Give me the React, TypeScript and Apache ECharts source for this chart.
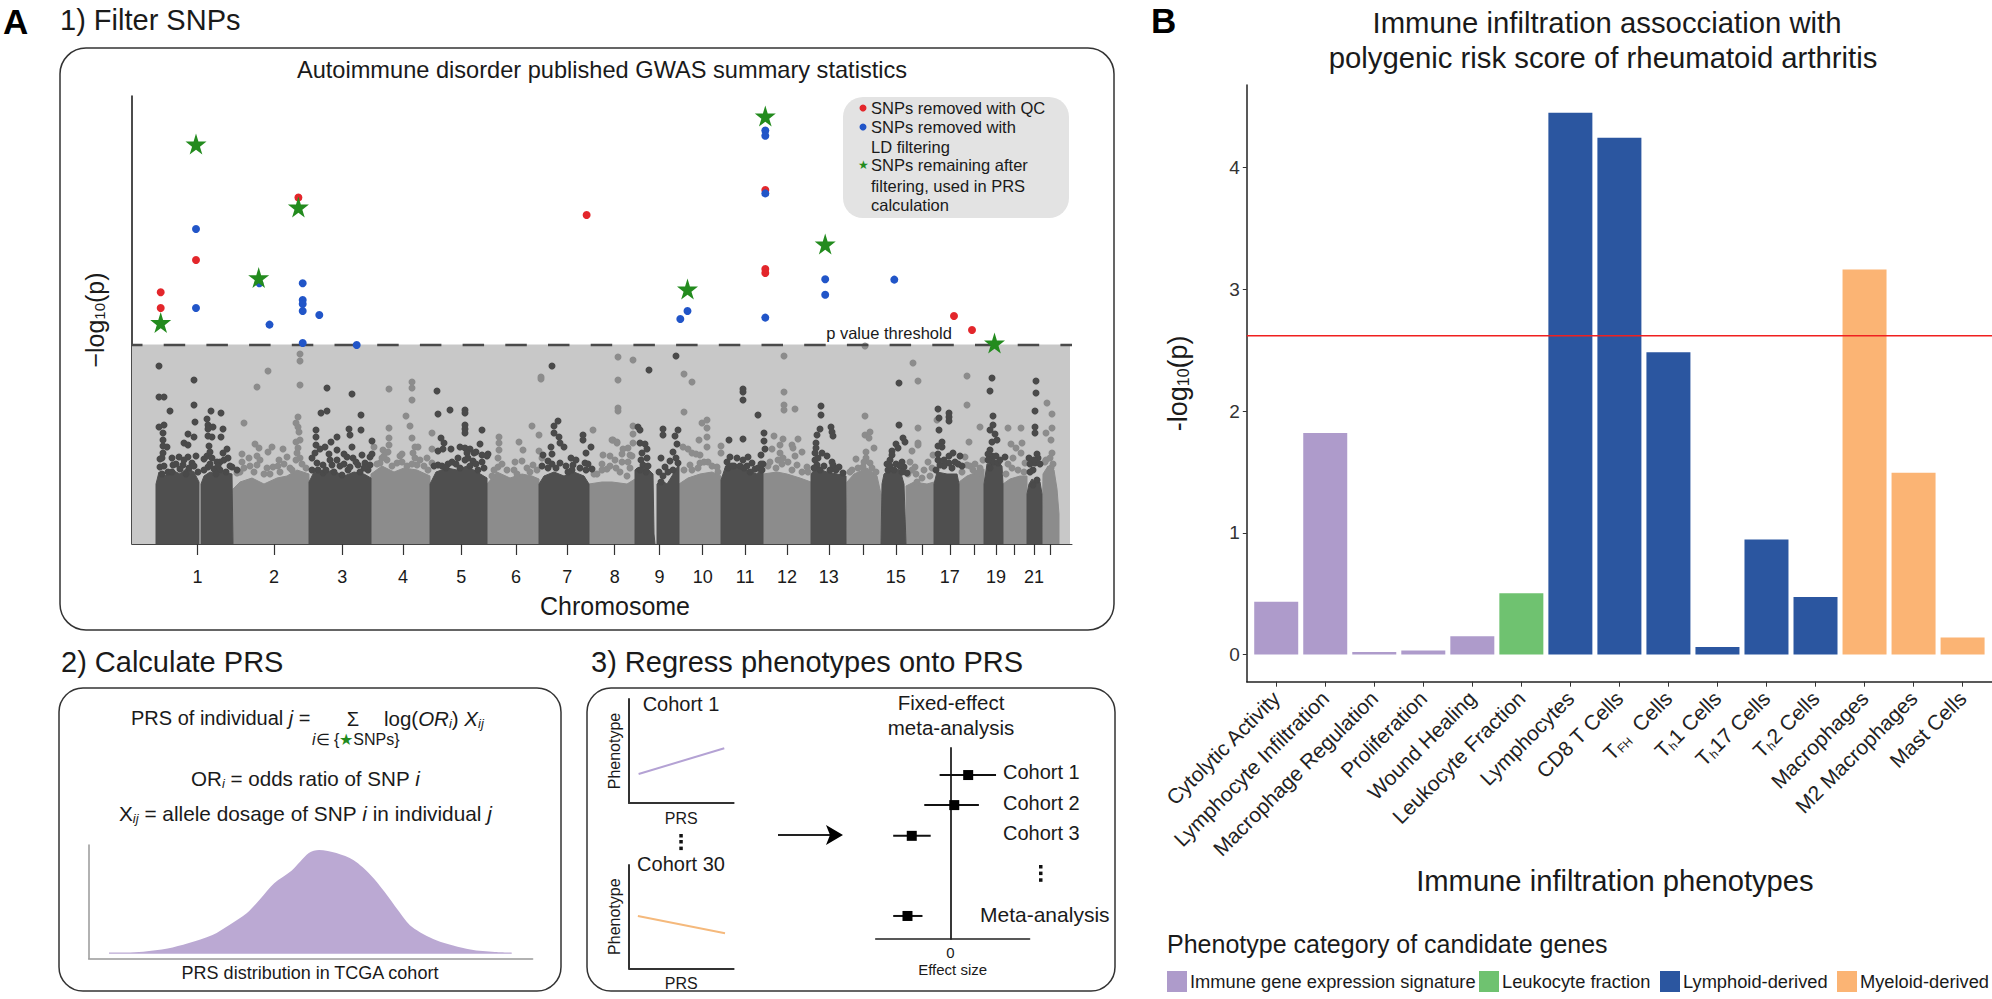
import React, { useEffect, useRef } from "react";
import * as echarts from "echarts";

const FONT = '"Liberation Sans", Arial, sans-serif';

// ---------- Panel A1: Manhattan plot ----------
const chromosomeTicks = [65.5, 141.9, 210.3, 270.9, 329.2, 384, 435.2, 482.7, 527.4, 570.7, 613.2, 655, 696.8, 731.3, 763.8, 790.4, 817.8, 842.3, 863.9, 882.7, 902.1, 918.7];
const chromosomeLabels = ["1", "2", "3", "4", "5", "6", "7", "8", "9", "10", "11", "12", "13", "", "15", "", "17", "", "19", "", "21", ""];
const threshold = 199;
const darkMass = [
  [[24,0],[24,60],[27,72],[33,68],[40,74],[48,70],[55,76],[62,72],[67,62],[67,0]],
  [[69,0],[69,60],[72,68],[78,72],[85,70],[92,72],[100,70],[101,0]],
  [[177,0],[177,62],[182,72],[192,70],[200,74],[212,68],[222,72],[232,70],[239,66],[239,0]],
  [[298,0],[298,60],[304,72],[315,76],[325,74],[335,78],[345,72],[355,66],[355,0]],
  [[407,0],[407,60],[412,68],[422,72],[432,68],[442,72],[452,68],[457,60],[457,0]],
  [[503,0],[503,74],[505,76],[515,76],[521,70],[522,10],[523,0]],
  [[525,0],[525,60],[529,64],[535,60],[540,68],[547,80],[547,0]],
  [[589,0],[589,64],[593,76],[605,78],[615,74],[625,70],[631,78],[631,0]],
  [[679,0],[679,70],[684,76],[695,72],[705,70],[714,68],[714,0]],
  [[749,0],[750,60],[752,70],[760,76],[768,74],[772,60],[774,0]],
  [[802,0],[802,60],[805,72],[815,70],[825,70],[827,60],[827,0]],
  [[852,0],[852,60],[855,80],[865,82],[870,78],[871,60],[871,0]],
  [[895,0],[895,50],[897,60],[900,65],[904,62],[908,62],[910,50],[910,0]],
];
const lightMass = [
  [[101,0],[101,55],[108,62],[120,66],[132,60],[145,66],[155,68],[165,74],[177,70],[177,0]],
  [[239,0],[239,70],[250,78],[262,72],[272,76],[285,74],[298,68],[298,0]],
  [[355,0],[355,60],[365,72],[378,66],[390,70],[400,68],[407,65],[407,0]],
  [[457,0],[457,60],[470,62],[480,62],[495,60],[503,65],[503,0]],
  [[547,0],[547,60],[556,66],[568,70],[580,72],[589,68],[589,0]],
  [[631,0],[631,70],[645,72],[655,70],[668,66],[679,62],[679,0]],
  [[714,0],[715,62],[722,70],[735,76],[745,68],[749,50],[749,0]],
  [[774,0],[774,58],[782,62],[795,60],[802,62],[802,0]],
  [[827,0],[827,62],[835,68],[845,72],[852,75],[852,0]],
  [[871,0],[871,60],[878,65],[888,68],[895,68],[895,0]],
  [[910,0],[911,70],[916,78],[922,74],[925,55],[927,30],[927,0]],
];
const darkDots = [
  [27,178],[62,164],[27,147],[32,147],[62,139],[38,133],[79,133],[89,131],[63,122],[75,125],[76,119],[27,117],[32,119],[81,117],[76,115],[91,115],[89,107],[31,111],[31,104],[76,108],[80,107],[62,107],[56,110],[52,101],[56,99],[31,98],[35,97],[77,98],[95,95],[91,91],[31,91],[30,86],[40,86],[47,87],[56,87],[75,88],[80,86],[85,82],[88,82],[28,77],[41,79],[51,79],[60,81],[76,77],[100,77],[105,74],[88,74],
  [28,85],[32,78],[36,72],[44,80],[48,75],[52,84],[57,76],[62,78],[66,72],[30,70],[40,72],[54,70],[64,88],[72,85],[78,80],[82,75],[86,78],[92,84],[96,86],[72,74],[84,70],[94,72],[98,78],[78,92],
  [195,156],[220,150],[189,131],[195,133],[229,129],[217,115],[218,109],[229,114],[184,114],[184,107],[184,99],[240,103],[205,107],[199,102],[193,97],[188,95],[183,91],[205,94],[197,90],[220,97],[215,87],[238,87],[230,89],[221,86],[205,84],[185,81],[191,79],[200,79],[233,81],[218,77],[238,79],[226,79],[191,71],[210,69],
  [180,86],[186,74],[194,74],[198,84],[208,78],[212,80],[216,74],[224,82],[236,74],[232,76],[180,74],[202,72],[228,72],[212,90],[240,90],
  [305,153],[306,130],[318,134],[333,134],[333,131],[333,119],[333,115],[333,111],[350,114],[309,106],[312,101],[311,95],[306,93],[319,95],[328,97],[333,96],[338,95],[335,91],[348,100],[342,91],[356,90],[350,89],[341,83],[333,84],[320,82],[306,79],[350,82],[355,88],
  [302,78],[310,78],[316,80],[324,80],[328,76],[338,78],[344,80],[352,76],[346,74],[336,86],[326,86],[314,76],[344,92],
  [420,178],[426,123],[422,118],[422,111],[427,107],[428,101],[432,97],[419,97],[420,90],[411,89],[416,83],[451,109],[451,104],[459,97],[454,91],[439,86],[453,81],[428,81],[441,79],[460,75],
  [410,78],[416,76],[424,76],[434,78],[440,74],[448,76],[454,74],[436,72],[456,80],[420,80],[444,84],
  [517,174],[544,188],[506,117],[508,114],[508,101],[513,100],[515,95],[510,91],[515,86],[511,79],[516,78],[531,115],[531,109],[546,114],[543,108],[545,100],[541,92],[529,86],[544,86],[538,83],[533,77],[546,81],[527,72],[529,62],
  [509,84],[514,72],[508,74],[541,74],[536,72],[531,68],
  [611,155],[611,152],[611,144],[626,129],[597,104],[611,105],[632,111],[632,103],[633,95],[598,87],[605,86],[611,84],[616,87],[595,82],[629,89],[620,81],[631,80],[623,75],[615,78],[602,78],
  [596,76],[600,78],[608,78],[612,76],[618,72],[626,76],[630,74],[629,80],
  [689,138],[689,129],[699,117],[700,112],[701,108],[688,115],[685,109],[684,101],[684,96],[683,91],[690,91],[695,88],[683,84],[700,82],[701,79],[707,77],[685,79],[711,71],
  [682,76],[688,74],[692,78],[698,74],[704,74],[686,86],
  [767,161],[767,119],[764,100],[771,106],[773,102],[766,96],[760,93],[760,89],[758,84],[770,82],[772,77],[775,71],[756,74],
  [755,80],[758,78],[764,80],[762,74],[768,78],[770,72],
  [806,135],[807,126],[807,114],[817,131],[817,127],[817,123],[810,102],[810,97],[806,98],[806,90],[817,88],[821,91],[828,88],[817,81],[808,79],[823,82],[830,78],
  [806,84],[812,78],[820,76],[826,80],[812,84],[804,74],
  [860,166],[858,153],[861,128],[861,119],[858,114],[863,110],[865,104],[860,102],[858,94],[860,88],[861,82],[873,87],[866,81],
  [856,90],[856,84],[864,88],[868,84],[858,76],
  [904,163],[904,151],[903,133],[903,117],[903,111],[897,86],[905,90],[906,86],[903,81],[901,74],[905,64],[901,59],
  [898,80],[902,84],[908,80],[898,72],
];
const lightDots = [
  [136,173],[125,157],[112,121],[168,190],[168,183],[168,159],[166,127],[164,121],[166,117],[167,112],[168,104],[164,102],[123,100],[127,96],[136,92],[140,97],[151,95],[110,90],[117,86],[125,88],[110,82],[147,84],[155,87],[166,96],[165,91],[168,86],[125,79],[135,76],[141,77],[105,71],[148,72],[158,76],
  [112,76],[118,78],[122,72],[128,84],[132,70],[138,70],[146,78],[152,80],[160,74],[170,80],[174,76],[108,72],[164,84],
  [257,155],[280,162],[280,156],[280,144],[274,128],[278,118],[257,116],[280,106],[257,106],[257,99],[251,94],[256,92],[283,97],[286,97],[281,91],[283,86],[268,88],[248,81],[255,84],[265,81],[285,79],[295,86],[300,81],[242,97],[300,111],[300,95],
  [245,80],[250,86],[260,78],[270,82],[275,78],[280,80],[288,84],[292,78],[296,74],[252,88],[270,90],
  [367,107],[367,101],[367,94],[366,86],[366,77],[387,102],[391,94],[383,82],[390,83],[401,79],[410,86],[400,118],[407,109],[407,93],[409,167],[409,165],
  [362,74],[370,80],[375,74],[382,74],[395,76],[398,72],[405,74],[385,70],[360,68],
  [461,114],[480,104],[485,102],[481,104],[485,101],[491,95],[498,89],[483,84],[471,89],[496,82],[501,101],[486,187],[486,164],[486,136],[486,133],[501,184],[552,170],[560,162],[552,132],[501,118],[501,110],[475,75],[488,72],[465,70],[495,68],
  [462,70],[470,74],[478,78],[484,76],[490,82],[498,76],[500,88],[478,88],[490,90],[496,96],[470,80],
  [570,121],[575,124],[575,116],[575,107],[575,97],[567,104],[551,97],[556,95],[560,91],[568,89],[568,81],[576,82],[558,79],[585,77],[589,98],[589,91],
  [552,74],[560,74],[566,76],[572,82],[580,78],[586,72],[564,90],
  [652,188],[652,152],[652,139],[652,134],[663,135],[642,108],[651,105],[648,99],[640,95],[660,99],[661,96],[666,105],[670,92],[663,88],[648,91],[651,86],[638,82],[675,77],[665,79],
  [636,78],[644,76],[650,80],[660,74],[670,72],[656,82],[676,72],[646,84],
  [733,198],[733,128],[733,109],[738,112],[737,106],[742,96],[734,92],[734,86],[724,85],[738,81],[720,74],[731,77],
  [718,72],[726,76],[732,82],[740,76],[744,72],
  [781,181],[786,163],[786,116],[786,101],[786,99],[780,93],[778,82],[783,77],[780,74],[796,82],[801,89],[785,62],[805,124],
  [776,70],[784,70],[790,66],[798,68],[800,76],[792,74],
  [835,168],[835,139],[837,102],[833,87],[846,71],[835,79],[841,74],[848,117],[851,84],
  [830,72],[838,78],[848,76],[843,80],
  [876,116],[889,116],[879,100],[884,96],[890,101],[889,91],[881,86],[893,81],[915,141],[920,130],[920,116],[914,111],[919,104],[920,91],[913,82],[919,76],
  [874,70],[880,76],[886,74],[892,72],[876,80],[914,84],[918,86],[921,80],
];
const redDots = [[28.7,251.7],[28.7,236],[64,284],[166.4,346.5],[454.6,329],[633.3,354],[633.3,275],[633.3,271],[822,228],[840,214]];
const blueDots = [[64,315],[64,236],[127.4,260.7],[137.5,219.4],[170.7,260.7],[170.7,244],[170.7,240],[170.7,233],[170.7,201],[187.3,229],[224.7,199],[548.3,225],[555.5,233],[633.3,413.5],[633.3,408.2],[633.3,350.6],[633.3,226.4],[693.2,264.8],[693.2,249.3],[762.3,264.4]];
const greenStars = [[28.7,221.5],[64,400],[126.7,266.4],[166.4,337],[555.5,255],[633.3,428],[693.2,300],[862.5,201]];
const legendRows = ["SNPs removed with QC", "SNPs removed with", "LD filtering", "SNPs remaining after", "filtering, used in PRS", "calculation"];

// ---------- Panel A2: PRS density ----------
const prsDensity = [[4.6,0.013],[8.4,0.012],[12.3,0.019],[17.8,0.05],[22.4,0.1],[27.9,0.18],[31.7,0.277],[35.6,0.39],[38.7,0.53],[41.8,0.68],[45.7,0.8],[49.6,0.97],[51.9,1],[55.8,0.97],[59.7,0.9],[63.5,0.76],[66.6,0.6],[69.7,0.42],[72.8,0.26],[78.3,0.13],[86,0.04],[91.5,0.016],[95.3,0.01]];

// ---------- Panel A3: cohort regressions and forest plot ----------
const cohort1Line = [[0.092,0.279],[0.911,0.526]];
const cohort30Line = [[0.085,0.506],[0.918,0.339]];
const forestRows = [
  [-0.3, 1.28, 16.37, 0.5],
  [-0.73, 0.8, 13.37, 0.11],
  [-1.6, -0.55, 10.3, -1.08],
  [-1.6, -0.78, 2.3, -1.2],
];

// ---------- Panel B: bars ----------
const phenotypes = ["Cytolytic Activity", "Lymphocyte Infiltration", "Macrophage Regulation", "Proliferation", "Wound Healing", "Leukocyte Fraction", "Lymphocytes", "CD8 T Cells", "{r|T}{s|FH}{r|  Cells}", "{r|T}{s|h}{r|1 Cells}", "{r|T}{s|h}{r|17 Cells}", "{r|T}{s|h}{r|2 Cells}", "Macrophages", "M2 Macrophages", "Mast Cells"];
const signatureValues = [[1,0.434],[2,1.82],[3,0.022],[4,0.033],[5,0.15]];
const leukocyteValues = [[6,0.503]];
const lymphoidValues = [[7,4.45],[8,4.243],[9,2.482],[10,0.063],[11,0.945],[12,0.473]];
const myeloidValues = [[13,3.163],[14,1.494],[15,0.14]];
const barThreshold = 2.618;
const categoryNames = ["Immune gene expression signature", "Leukocyte fraction", "Lymphoid-derived", "Myeloid-derived"];
const STAR = "path://M50 0 L61 35 L98 35 L68 57 L79 91 L50 70 L21 91 L32 57 L2 35 L39 35 Z";

const withGaps = (polys: number[][][]) => polys.flatMap((p) => [...p, ["-", "-"]]);

function txt(x: number, y: number, text: string, size: number, extra: any = {}) {
  const { rotation, ...style } = extra;
  return {
    type: "text", x, y, rotation: rotation || 0, silent: true,
    style: { text, fontSize: size, fontFamily: FONT, fill: "#1a1a1a", textAlign: "left", textVerticalAlign: "middle", ...style },
  };
}
const panel = (x: number, y: number, width: number, height: number, r: number) => ({
  type: "rect", silent: true, shape: { x, y, width, height, r },
  style: { fill: "none", stroke: "#333", lineWidth: 1.5 },
});
const vdots = (x: number, ys: number[]) => ys.map((y) => ({ type: "rect", silent: true, shape: { x: x - 1.7, y: y - 1.7, width: 3.5, height: 3.5 }, style: { fill: "#111" } }));

const richAt = (size: number) => ({
  n: { fontSize: size, fontFamily: FONT, fill: "#1a1a1a" },
  i: { fontSize: size, fontFamily: FONT, fontStyle: "italic", fill: "#1a1a1a" },
  s: { fontSize: 13, fontFamily: FONT, fontStyle: "italic", fill: "#1a1a1a", padding: [10, 0, 0, 0] },
});

function buildOption() {
  const axisOff = { show: false };
  const graphic: any[] = [
    txt(3, 21, "A", 35, { fontWeight: "bold", fill: "#000" }),
    txt(1151, 20, "B", 35, { fontWeight: "bold", fill: "#000" }),
    txt(60, 20, "1) Filter SNPs", 29),
    txt(61, 662, "2) Calculate PRS", 29),
    txt(591, 662, "3) Regress phenotypes onto PRS", 29),
    panel(60, 48, 1054, 582, 26),
    panel(59, 688, 502, 303, 24),
    panel(587, 688, 528, 303, 24),
    txt(602, 70, "Autoimmune disorder published GWAS summary statistics", 23.6, { textAlign: "center" }),
    txt(889, 333, "p value threshold", 16.5, { textAlign: "center" }),
    { type: "rect", silent: true, shape: { x: 843, y: 97, width: 226, height: 121, r: 20 }, style: { fill: "#e3e3e3" } },
    { type: "circle", silent: true, shape: { cx: 863, cy: 108, r: 3.5 }, style: { fill: "#e3262b" } },
    { type: "circle", silent: true, shape: { cx: 863, cy: 127, r: 3.5 }, style: { fill: "#2155c8" } },
    txt(863, 165, "★", 12, { textAlign: "center", fill: "#238b1e" }),
    ...legendRows.map((t, i) => txt(871, [108, 127, 147, 165, 185.5, 205][i], t, 16.5)),
    // formula
    txt(131, 718, "{n|PRS of individual }{i|j}{n| =}", 20, { rich: richAt(20) }),
    txt(353, 719, "Σ", 20, { textAlign: "center" }),
    txt(312, 739, "{a|i}{b|∈ {}{c|★}{b|SNPs}}", 16, { rich: {
      a: { fontSize: 16, fontFamily: FONT, fontStyle: "italic", fill: "#1a1a1a" },
      b: { fontSize: 16, fontFamily: FONT, fill: "#1a1a1a" },
      c: { fontSize: 16, fontFamily: FONT, fill: "#238b1e" },
    } }),
    txt(384, 718, "{n|log(}{i|OR}{s|i}{n|) }{i|X}{s|ij}", 20.5, { rich: richAt(20.5) }),
    txt(191, 778, "{n|OR}{s|i}{n| = odds ratio of SNP }{i|i}", 20.6, { rich: richAt(20.6) }),
    txt(119, 813, "{n|X}{s|ij}{n| = allele dosage of SNP }{i|i}{n| in individual }{i|j}", 20.8, { rich: richAt(20.8) }),
    txt(310, 973, "PRS distribution in TCGA cohort", 18, { textAlign: "center" }),
    // cohort texts
    txt(681, 704, "Cohort 1", 20, { textAlign: "center" }),
    txt(681, 864, "Cohort 30", 20, { textAlign: "center" }),
    ...vdots(681, [835.7, 841.7, 848.3]),
    ...vdots(1040.7, [866.7, 873.3, 880]),
    txt(951, 702, "Fixed-effect", 20.5, { textAlign: "center" }),
    txt(951, 727, "meta-analysis", 20.5, { textAlign: "center" }),
    txt(1003, 772, "Cohort 1", 20),
    txt(1003, 803, "Cohort 2", 20),
    txt(1003, 833, "Cohort 3", 20),
    txt(980, 914, "Meta-analysis", 21),
    // arrow
    { type: "line", silent: true, shape: { x1: 778, y1: 835, x2: 830, y2: 835 }, style: { stroke: "#222", lineWidth: 2 } },
    { type: "polygon", silent: true, shape: { points: [[826, 825], [843, 835], [826, 845], [830, 835]] }, style: { fill: "#000" } },
    // panel B text
    txt(1607, 22, "Immune infiltration assocciation with", 29.3, { textAlign: "center" }),
    txt(1603, 57, "polygenic risk score of rheumatoid arthritis", 29.3, { textAlign: "center" }),
    txt(1167, 944, "Phenotype category of candidate genes", 25),
  ];

  const grids = [
    { left: 132, top: 96, width: 940, height: 448 },
    { left: 88.6, top: 845, width: 444, height: 113.3 },
    { left: 629, top: 699, width: 104.6, height: 104 },
    { left: 629, top: 865, width: 104.6, height: 103.3 },
    { left: 875.7, top: 748, width: 153.9, height: 191 },
    { left: 1246.8, top: 85, width: 745.2, height: 596.7 },
  ];

  const cohortX = (i: number, name: string) => ({
    type: "value", gridIndex: i, min: 0, max: 1, name, nameLocation: "middle", nameGap: 7,
    nameTextStyle: { fontSize: 16, fontFamily: FONT, color: "#1a1a1a" },
    axisLine: { lineStyle: { color: "#333", width: 2 } }, axisTick: axisOff, axisLabel: axisOff, splitLine: axisOff,
  });
  const cohortY = (i: number) => ({
    type: "value", gridIndex: i, min: 0, max: 1, name: "Phenotype", nameLocation: "middle", nameGap: 7,
    nameTextStyle: { fontSize: 16, fontFamily: FONT, color: "#1a1a1a" },
    axisLine: { show: true, lineStyle: { color: "#333", width: 2 } }, axisTick: axisOff, axisLabel: axisOff, splitLine: axisOff,
  });

  const xAxis: any[] = [
    {
      type: "value", gridIndex: 0, min: 0, max: 940, name: "Chromosome", nameLocation: "middle", nameGap: 49,
      nameTextStyle: { fontSize: 25, fontFamily: FONT, color: "#1a1a1a", padding: [0, 0, 0, 26] },
      axisLine: { lineStyle: { color: "#444", width: 1 } },
      axisTick: { length: 11, customValues: chromosomeTicks, lineStyle: { color: "#333", width: 1.2 } },
      axisLabel: {
        customValues: chromosomeTicks, margin: 24, fontSize: 18, fontFamily: FONT, color: "#1a1a1a",
        formatter: (v: number) => chromosomeLabels[chromosomeTicks.indexOf(v)] ?? "",
      },
      splitLine: axisOff,
    },
    { type: "value", gridIndex: 1, min: 0, max: 100, axisLine: { onZero: false, lineStyle: { color: "#999", width: 1.5 } }, axisTick: axisOff, axisLabel: axisOff, splitLine: axisOff },
    cohortX(2, "PRS"),
    cohortX(3, "PRS"),
    {
      type: "value", gridIndex: 4, min: -2.09, max: 2.22, name: "Effect size", nameLocation: "middle", nameGap: 23,
      nameTextStyle: { fontSize: 15, fontFamily: FONT, color: "#1a1a1a" },
      axisLine: { onZero: true, lineStyle: { color: "#222", width: 1.5 } }, axisTick: axisOff,
      axisLabel: { customValues: [0], margin: 6, fontSize: 15, fontFamily: FONT, color: "#1a1a1a" }, splitLine: axisOff,
    },
    {
      type: "value", gridIndex: 5, min: 0.4, max: 15.6, name: "Immune infiltration phenotypes", nameLocation: "middle", nameGap: 174,
      nameTextStyle: { fontSize: 29.2, fontFamily: FONT, color: "#1a1a1a", padding: [0, 9, 0, 0] },
      axisLine: { onZero: false, lineStyle: { color: "#222", width: 1.5 } },
      axisTick: { length: 5, customValues: phenotypes.map((_, i) => i + 1), lineStyle: { color: "#333" } },
      axisLabel: {
        customValues: phenotypes.map((_, i) => i + 1), rotate: 45, margin: 13, fontSize: 21, fontFamily: FONT, color: "#222",
        formatter: (v: number) => phenotypes[v - 1] ?? "",
        rich: {
          r: { fontSize: 21, fontFamily: FONT, color: "#222" },
          s: { fontSize: 12, fontFamily: FONT, color: "#222", padding: [10, 0, 0, 0] },
        },
      },
      splitLine: axisOff,
    },
  ];
  const yAxis: any[] = [
    {
      type: "value", gridIndex: 0, min: 0, max: 448, name: "{a|−log}{b|10}{a|(p)}", nameLocation: "middle", nameGap: 25,
      nameTextStyle: { rich: {
        a: { fontSize: 25, fontFamily: FONT, color: "#1a1a1a" },
        b: { fontSize: 15, fontFamily: FONT, color: "#1a1a1a", padding: [10, 0, 0, 0] },
      } },
      axisLine: { show: true, lineStyle: { color: "#111", width: 1.5 } }, axisTick: axisOff, axisLabel: axisOff, splitLine: axisOff,
    },
    { type: "value", gridIndex: 1, min: -0.044, max: 1.048, axisLine: { show: true, onZero: false, lineStyle: { color: "#999", width: 1.5 } }, axisTick: axisOff, axisLabel: axisOff, splitLine: axisOff },
    cohortY(2),
    cohortY(3),
    { type: "value", gridIndex: 4, min: 0, max: 19.07, axisLine: { show: true, onZero: true, lineStyle: { color: "#222", width: 1.8 } }, axisTick: axisOff, axisLabel: axisOff, splitLine: axisOff },
    {
      type: "value", gridIndex: 5, min: -0.2225, max: 4.677, name: "{a|-log}{b|10}{a|(p)}", nameLocation: "middle", nameGap: 55,
      nameTextStyle: { rich: {
        a: { fontSize: 27, fontFamily: FONT, color: "#1a1a1a" },
        b: { fontSize: 16, fontFamily: FONT, color: "#1a1a1a", padding: [10, 0, 0, 0] },
      } },
      axisLine: { show: true, onZero: false, lineStyle: { color: "#222", width: 1.5 } },
      axisTick: { show: true, length: 4, customValues: [0, 1, 2, 3, 4], lineStyle: { color: "#333" } },
      axisLabel: { customValues: [0, 1, 2, 3, 4], margin: 7, fontSize: 19, fontFamily: FONT, color: "#333" },
      splitLine: axisOff,
    },
  ];

  const area = (data: any[], color: string, z: number, name: string) => ({
    type: "line", name, xAxisIndex: 0, yAxisIndex: 0, data, z, showSymbol: false, symbol: "none", silent: true,
    lineStyle: { width: 1, color }, areaStyle: { color, opacity: 1 },
  });
  const dots = (data: any[], color: string, size: number, z: number, name: string, symbol = "circle") => ({
    type: "scatter", name, xAxisIndex: 0, yAxisIndex: 0, data, z, symbol, symbolSize: size, silent: true,
    itemStyle: { color, opacity: 1 },
  });
  const bar = (name: string, data: number[][], color: string) => ({
    type: "bar", name, xAxisIndex: 5, yAxisIndex: 5, data, barWidth: 44, barGap: "-100%", itemStyle: { color }, silent: true, z: 2,
  });
  const plainLine = (i: number, data: number[][], color: string, name: string) => ({
    type: "line", name, xAxisIndex: i, yAxisIndex: i, data, symbol: "none", silent: true, lineStyle: { color, width: 2 },
  });

  const series: any[] = [
    area([[0, threshold], [938, threshold]], "#c8c8c8", 1, "below threshold"),
    area(withGaps(lightMass), "#8c8c8c", 2, "even chromosomes"),
    area(withGaps(darkMass), "#4f4f4f", 3, "odd chromosomes"),
    dots(lightDots, "#8c8c8c", 7, 4, "light SNPs"),
    dots(darkDots, "#4a4a4a", 7, 5, "dark SNPs"),
    {
      type: "line", name: "p value threshold", xAxisIndex: 0, yAxisIndex: 0, z: 6, symbol: "none", silent: true,
      data: [[0, threshold], [940, threshold]],
      lineStyle: { color: "#4a4a4a", width: 2.5, type: [21.5, 21.2], dashOffset: 10.5 },
    },
    dots(redDots, "#e3262b", 8, 7, "SNPs removed with QC"),
    dots(blueDots, "#2155c8", 8, 8, "SNPs removed with LD filtering"),
    dots(greenStars, "#238b1e", 21, 9, "SNPs remaining after filtering", STAR),
    {
      type: "line", name: "PRS density", xAxisIndex: 1, yAxisIndex: 1, data: prsDensity, smooth: 0.3, symbol: "none", silent: true,
      lineStyle: { width: 0 }, areaStyle: { color: "#bba9d3", opacity: 1 },
    },
    plainLine(2, cohort1Line, "#b4a2d4", "Cohort 1"),
    plainLine(3, cohort30Line, "#f5b97c", "Cohort 30"),
    {
      type: "custom", name: "confidence intervals", xAxisIndex: 4, yAxisIndex: 4, data: forestRows, silent: true, z: 3,
      encode: { x: [0, 1], y: 2 },
      renderItem: (_: any, api: any) => {
        const a = api.coord([api.value(0), api.value(2)]);
        const b = api.coord([api.value(1), api.value(2)]);
        return { type: "line", shape: { x1: a[0], y1: a[1], x2: b[0], y2: b[1] }, style: { stroke: "#111", lineWidth: 2 } };
      },
    },
    {
      type: "scatter", name: "effects", xAxisIndex: 4, yAxisIndex: 4, symbol: "rect", symbolSize: 10, silent: true, z: 4,
      data: forestRows.map((r) => [r[3], r[2]]), itemStyle: { color: "#000", opacity: 1 },
    },
    bar(categoryNames[0], signatureValues, "#ae9bcb"),
    bar(categoryNames[1], leukocyteValues, "#6fc270"),
    bar(categoryNames[2], lymphoidValues, "#2b56a0"),
    bar(categoryNames[3], myeloidValues, "#fbb474"),
    {
      type: "line", name: "significance", xAxisIndex: 5, yAxisIndex: 5, symbol: "none", silent: true, z: 5,
      data: [[0.4, barThreshold], [15.6, barThreshold]], lineStyle: { color: "#f0201f", width: 1.5 },
    },
  ];

  const legendLefts = [1167, 1479, 1660, 1837];
  return {
    animation: false,
    backgroundColor: "#fff",
    grid: grids,
    xAxis,
    yAxis,
    series,
    graphic: { elements: graphic },
    tooltip: { show: false },
    legend: categoryNames.map((name, i) => ({
      left: legendLefts[i], top: 971, icon: "rect", itemWidth: 20, itemHeight: 21, selectedMode: false, padding: 0,
      data: [name],
      textStyle: { fontSize: 18.3, fontFamily: FONT, color: "#1a1a1a", padding: [8, 0, 0, -2] },
    })),
  };
}

export default function App() {
  const ref = useRef<HTMLDivElement>(null);
  useEffect(() => {
    document.body.style.margin = "0";
    const chart = echarts.init(ref.current!, undefined, { renderer: "svg", width: 1992, height: 999 });
    chart.setOption(buildOption() as any);
    return () => chart.dispose();
  }, []);
  return <div ref={ref} style={{ width: 1992, height: 999, background: "#fff" }} />;
}
